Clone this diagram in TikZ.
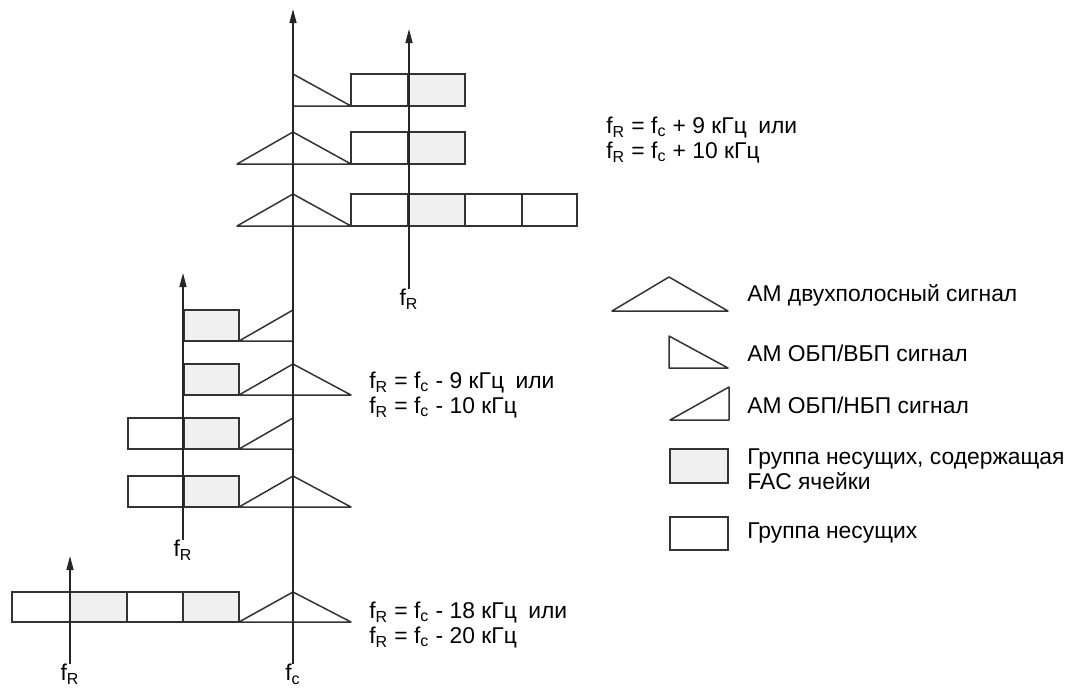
\documentclass[tikz,border=0pt]{standalone}
\usepackage{fontspec}
\setmainfont{Liberation Sans}
\usetikzlibrary{arrows.meta}

\begin{document}
\begin{tikzpicture}[x=0.02cm, y=-0.02cm,
  sig/.style={draw=black!80, line width=0.85pt, line join=round},
  carrier/.style={draw=black!80, fill=white, line width=0.85pt},
  faccell/.style={carrier, fill=black!6},
  axis/.style={draw=black!85, line width=0.85pt, -{Triangle[length=8pt, width=4pt]}},
  lbl/.style={font=\fontsize{13}{14}\selectfont, inner sep=0pt},
  eqn/.style={lbl, align=left, anchor=west}
]
  \useasboundingbox (0,0) rectangle (1066,691);

  % Upper group: f_R above f_c
  \draw[sig] (293,106) -- (293,74) -- (351,106) -- cycle;
  \draw[carrier] (351,74) rectangle (408,106);
  \draw[faccell] (408,74) rectangle (465,106);

  \draw[sig] (237,164) -- (293,132) -- (351,164) -- cycle;
  \draw[carrier] (351,132) rectangle (408,164);
  \draw[faccell] (408,132) rectangle (465,164);

  \draw[sig] (237,226) -- (293,194) -- (351,226) -- cycle;
  \draw[carrier] (351,194) rectangle (408,226);
  \draw[faccell] (408,194) rectangle (465,226);
  \draw[carrier] (465,194) rectangle (522,226);
  \draw[carrier] (522,194) rectangle (577,226);

  % Middle group: f_R below f_c
  \draw[faccell] (184,310) rectangle (239,341);
  \draw[sig] (239,341) -- (293,310) -- (293,341) -- cycle;

  \draw[faccell] (184,364) rectangle (239,395);
  \draw[sig] (239,395) -- (293,364) -- (351,395) -- cycle;

  \draw[carrier] (128,418) rectangle (184,449);
  \draw[faccell] (184,418) rectangle (239,449);
  \draw[sig] (239,449) -- (293,418) -- (293,449) -- cycle;

  \draw[carrier] (128,476) rectangle (184,507);
  \draw[faccell] (184,476) rectangle (239,507);
  \draw[sig] (239,507) -- (293,476) -- (351,507) -- cycle;

  % Lower group
  \draw[carrier] (12,592) rectangle (70,622);
  \draw[faccell] (70,592) rectangle (127,622);
  \draw[carrier] (127,592) rectangle (183,622);
  \draw[faccell] (183,592) rectangle (239,622);
  \draw[sig] (239,622) -- (293,592) -- (351,622) -- cycle;

  % Axes
  \node[lbl, anchor=north] (fc) at (293,664) {f\textsubscript{c}};
  \coordinate (fctop) at (293,9);
  \draw[axis] (fc) -- (fctop);

  \node[lbl, anchor=north] (fra) at (409,289) {f\textsubscript{R}};
  \coordinate (fratop) at (409,29);
  \draw[axis] (fra) -- (fratop);

  \node[lbl, anchor=north] (frb) at (183,540) {f\textsubscript{R}};
  \coordinate (frbtop) at (183,273);
  \draw[axis] (frb) -- (frbtop);

  \node[lbl, anchor=north] (frc) at (70,664) {f\textsubscript{R}};
  \coordinate (frctop) at (70,556);
  \draw[axis] (frc) -- (frctop);

  % Offsets
  \node[eqn] (offa) at (606,140)
    {f\textsubscript{R} = f\textsubscript{c} + 9 кГц\enspace или\\
     f\textsubscript{R} = f\textsubscript{c} + 10 кГц};
  \node[eqn] (offb) at (369,395)
    {f\textsubscript{R} = f\textsubscript{c} - 9 кГц\enspace или\\
     f\textsubscript{R} = f\textsubscript{c} - 10 кГц};
  \node[eqn] (offc) at (369,625)
    {f\textsubscript{R} = f\textsubscript{c} - 18 кГц\enspace или\\
     f\textsubscript{R} = f\textsubscript{c} - 20 кГц};

  % Legend
  \draw[sig] (612,311) -- (669,277) -- (728,311) -- cycle;
  \node[eqn] (lgdsb) at (747,295) {АМ двухполосный сигнал};

  \draw[sig] (669,336) -- (728,368) -- (669,368) -- cycle;
  \node[eqn] (lgusb) at (747,353) {АМ ОБП/ВБП сигнал};

  \draw[sig] (670,420) -- (729,387) -- (729,420) -- cycle;
  \node[eqn] (lglsb) at (747,405) {АМ ОБП/НБП сигнал};

  \draw[faccell] (670,449) rectangle (728,483);
  \node[eqn] (lgfac) at (747,469) {Группа несущих, содержащая\\FAC ячейки};

  \draw[carrier] (670,517) rectangle (728,550);
  \node[eqn] (lgcar) at (747,533) {Группа несущих};
\end{tikzpicture}
\end{document}
